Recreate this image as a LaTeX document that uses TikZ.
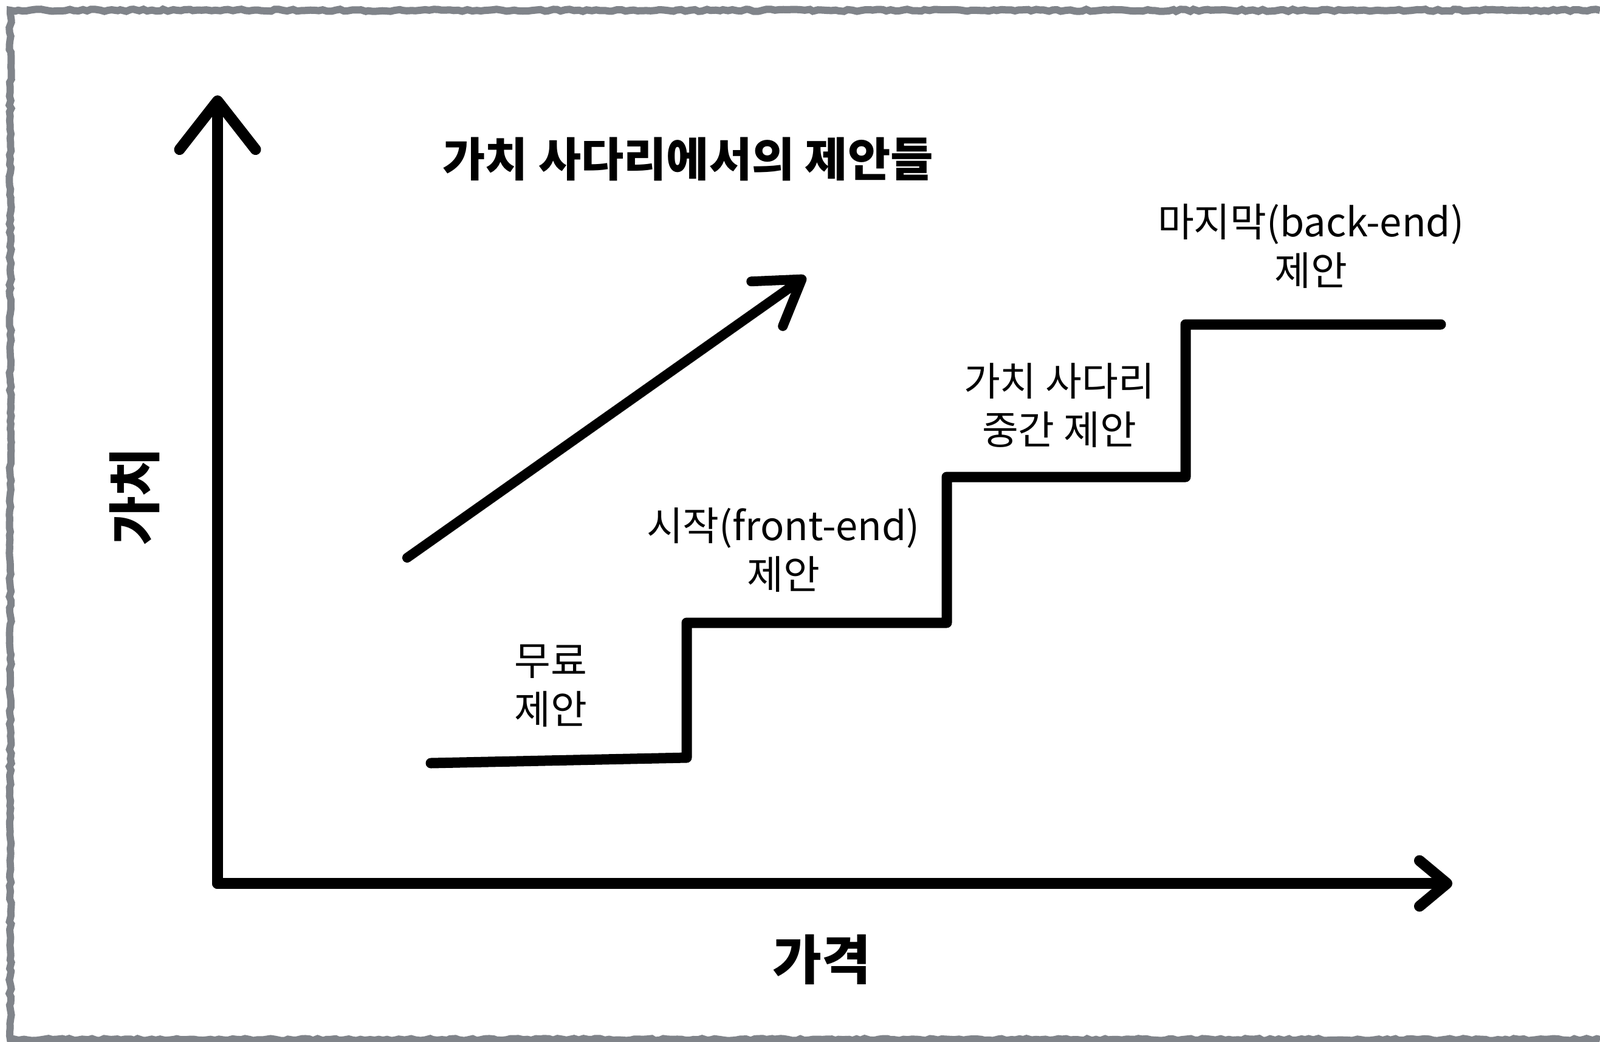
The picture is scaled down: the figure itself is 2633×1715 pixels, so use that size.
\documentclass[tikz,border=0pt]{standalone}
\usepackage{fontspec}
\setmainfont{Noto Sans CJK KR}
\usetikzlibrary{arrows.meta,decorations.pathmorphing}
\definecolor{framegray}{RGB}{128,132,138}

\begin{document}
\begin{tikzpicture}
	[
	x = {(0.01cm, 0cm)},
	y = {(0cm, -0.01cm)},
	paperframe/.style = {color = framegray, line width = 0.12cm, decorate, decoration = {random steps, segment length = 2pt, amplitude = 0.5pt}},
	axisline/.style = {color = black, line width = 0.18cm, line cap = round, line join = round},
	stair/.style = {color = black, line width = 0.17cm, line cap = round, line join = round},
	growarrow/.style = {color = black, line width = 0.16cm, line cap = round, line join = round},
	titletext/.style = {inner sep = 0pt, font = \fontsize{21.7}{26}\selectfont\bfseries},
	axislabel/.style = {inner sep = 0pt, font = \fontsize{25}{30}\selectfont\bfseries},
	steplabel/.style = {inner sep = 0pt, align = center, font = \fontsize{18.5}{22.8}\selectfont}]
	
	\useasboundingbox[fill = white] (0,0) rectangle (2633,1715);
	
	%% Frame of the page
	
	\draw[paperframe] (2633,17) -- (17,17) -- (17,1711) -- (2633,1711);
	
	%% Axes
	
	\coordinate (O) at (358,1454);
	\coordinate (ytip) at (358,157);
	\coordinate (xtip) at (2390,1454);
	
	\draw[axisline, -{Straight Barb[length = 0.8cm, width = 1.25cm, round]}] (O) -- (ytip);
	\draw[axisline, -{Straight Barb[length = 0.45cm, width = 0.75cm, round]}] (O) -- (xtip);
	
	\node[axislabel, rotate = 90] (ylabel) at (221,817) {가치};
	\node[axislabel] (xlabel) at (1352,1579) {가격};
	
	%% Rising arrow and title
	
	\coordinate (dstart) at (670,918);
	\coordinate (dtip) at (1326,455);
	\draw[growarrow, -{Straight Barb[length = 0.7cm, width = 0.9cm, round]}] (dstart) -- (dtip);
	
	\node[titletext] (title) at (1132,262) {가치 사다리에서의 제안들};
	
	%% The ladder
	
	\coordinate (s0) at (709,1256);
	\coordinate (s1) at (1130,1247);
	\coordinate (s2) at (1130,1025);
	\coordinate (s3) at (1558,1025);
	\coordinate (s4) at (1558,785);
	\coordinate (s5) at (1951,785);
	\coordinate (s6) at (1951,534);
	\coordinate (s7) at (2371,534);
	
	\draw[stair] (s0) -- (s1) -- (s2) -- (s3) -- (s4) -- (s5) -- (s6) -- (s7);
	
	%% Labels of the steps
	
	\node[steplabel] (freelbl) at (906,1129) {무료\\제안};
	\node[steplabel] (frontlbl) at (1289,905) {시작(front-end)\\제안};
	\node[steplabel] (midlbl) at (1743,667) {가치 사다리\\중간 제안};
	\node[steplabel] (backlbl) at (2157,405) {마지막(back-end)\\제안};
\end{tikzpicture}
\end{document}
